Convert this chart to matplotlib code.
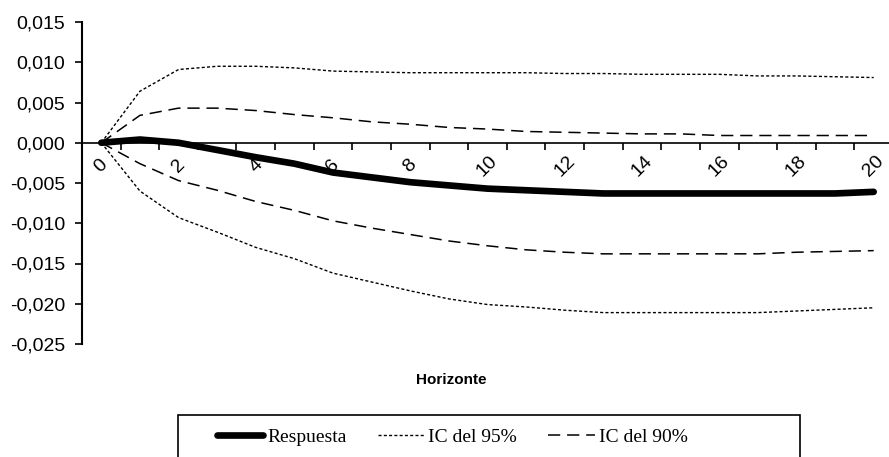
import matplotlib.pyplot as plt
from matplotlib.patches import Rectangle
from matplotlib.ticker import FuncFormatter

horizonte = list(range(21))

respuesta = [0.0, 0.0004, 0.0, -0.0009, -0.0018, -0.0026, -0.0037, -0.0043, -0.0049,
             -0.0053, -0.0057, -0.0059, -0.0061, -0.0063, -0.0063, -0.0063, -0.0063,
             -0.0063, -0.0063, -0.0063, -0.0061]

ic95_sup = [0.0, 0.0064, 0.0091, 0.0095, 0.0095, 0.0093, 0.0089, 0.0088, 0.0087,
            0.0087, 0.0087, 0.0087, 0.0086, 0.0086, 0.0085, 0.0085, 0.0085, 0.0083,
            0.0083, 0.0082, 0.0081]
ic95_inf = [0.0, -0.0060, -0.0093, -0.0111, -0.0130, -0.0144, -0.0162, -0.0173, -0.0184,
            -0.0194, -0.0201, -0.0204, -0.0208, -0.0211, -0.0211, -0.0211, -0.0211,
            -0.0211, -0.0209, -0.0207, -0.0205]

ic90_sup = [0.0, 0.0034, 0.0043, 0.0043, 0.0040, 0.0035, 0.0031, 0.0026, 0.0023,
            0.0019, 0.0017, 0.0014, 0.0013, 0.0012, 0.0011, 0.0011, 0.0009, 0.0009,
            0.0009, 0.0009, 0.0009]
ic90_inf = [0.0, -0.0026, -0.0047, -0.0059, -0.0073, -0.0084, -0.0097, -0.0106, -0.0114,
            -0.0122, -0.0128, -0.0133, -0.0136, -0.0138, -0.0138, -0.0138, -0.0138,
            -0.0138, -0.0136, -0.0135, -0.0134]

y_ticks = [0.015, 0.010, 0.005, 0.0, -0.005, -0.010, -0.015, -0.020, -0.025]

plt.rcParams['font.family'] = ['Liberation Sans', 'DejaVu Sans']

fig = plt.figure(figsize=(8.89, 4.57), dpi=100)
ax = fig.add_axes([82 / 889, 1 - 344 / 457, 811 / 889, 322 / 457])

dot = dict(color='black', lw=1.0, linestyle=(0, (2.2, 1.6)))
dash = dict(color='black', lw=1.1, linestyle=(0, (8, 4.5)))

ax.plot(horizonte, ic95_sup, **dot, label='IC del 95%')
ax.plot(horizonte, ic95_inf, **dot)
ax.plot(horizonte, ic90_sup, **dash, label='IC del 90%')
ax.plot(horizonte, ic90_inf, **dash)
ax.plot(horizonte, respuesta, color='black', lw=4.8, solid_capstyle='round',
        zorder=5, label='Respuesta')

ax.set_xlim(-0.5, 20.5)
ax.set_ylim(-0.025, 0.015)
ax.set_yticks(y_ticks)
ax.yaxis.set_major_formatter(FuncFormatter(lambda v, p: f"{v:.3f}".replace('.', ',').replace('-0,000', '0,000')))
ax.tick_params(axis='y', direction='out', length=5, width=1.2, labelsize=14, pad=7)

# x axis at zero
for s in ['top', 'right']:
    ax.spines[s].set_visible(False)
ax.spines['bottom'].set_position(('data', 0))
ax.spines['left'].set_linewidth(1.5)
ax.spines['bottom'].set_linewidth(1.2)

ax.set_xticks([k - 0.5 for k in horizonte[1:]], minor=True)
ax.set_xticks(horizonte[::2])
ax.set_xticklabels([str(k) for k in horizonte[::2]], rotation=45, ha='center', va='center')
ax.tick_params(axis='x', which='major', length=0, labelsize=14, pad=17)
ax.tick_params(axis='x', which='minor', length=5, width=1.2, direction='out')

fig.text(451 / 889, 1 - 380 / 457, 'Horizonte', ha='center', va='center',
         fontsize=11, fontweight='bold')

# legend box
box = Rectangle((178 / 889, 1 - 470 / 457), 622 / 889, 55 / 457, transform=fig.transFigure,
                facecolor='white', edgecolor='black', lw=1.2, clip_on=False)
fig.patches.append(box)
handles, labels = ax.get_legend_handles_labels()
order = [2, 0, 1]
fig.legend([handles[i] for i in order], [labels[i] for i in order],
           loc='center', bbox_to_anchor=(452 / 889, 1 - 437 / 457), ncol=3, frameon=False,
           prop={'family': 'Liberation Serif', 'size': 14}, handlelength=2.4,
           handletextpad=0.2, columnspacing=1.6)

fig.savefig('out.png', dpi=100)
